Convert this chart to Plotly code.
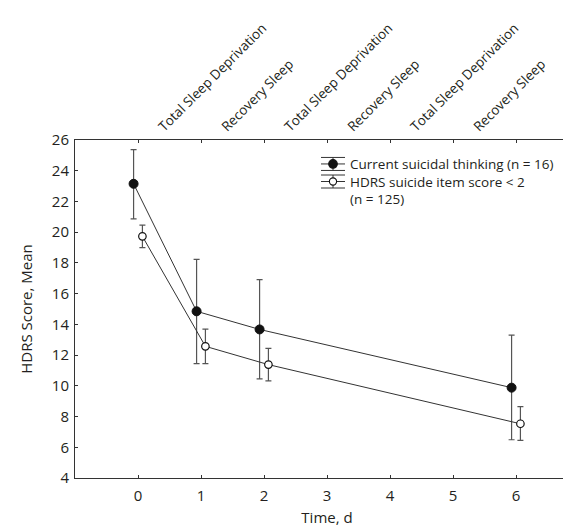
import plotly.graph_objects as go

days = [0, 1, 2, 6]
offset = 0.07

suicidal_mean = [23.15, 14.85, 13.67, 9.88]
suicidal_upper = [25.37, 18.23, 16.91, 13.30]
suicidal_lower = [20.87, 11.44, 10.45, 6.49]

nonsuicidal_mean = [19.73, 12.57, 11.38, 7.53]
nonsuicidal_upper = [20.46, 13.69, 12.44, 8.65]
nonsuicidal_lower = [18.99, 11.44, 10.32, 6.45]

legend_rows = ["Current suicidal thinking (n = 16)", "HDRS suicide item score < 2", "(n = 125)"]

top_labels = ["Total Sleep Deprivation", "Recovery Sleep", "Total Sleep Deprivation",
              "Recovery Sleep", "Total Sleep Deprivation", "Recovery Sleep"]
LABEL_SHIFT = 0.34
top_label_pos = [i + LABEL_SHIFT for i in range(len(top_labels))]

y_ticks = list(range(4, 27, 2))
x_ticks = [0, 1, 2, 3, 4, 5, 6]

FONT = "Open Sans"
TXT = "#231f20"
LINE = "#333333"
ERR = "#555555"

W, H = 571, 527
ML, MR, MT, MB = 67, 0, 132, 57
PW, PH = W - ML - MR, H - MT - MB

TICK_FS = 15
TITLE_FS = 15
SMALL_FS = 13.5


def px2paper(px, py):
    return (px - ML) / PW, (H - MB - py) / PH


fig = go.Figure()

fig.add_trace(go.Scatter(
    x=[d - offset for d in days], y=suicidal_mean,
    mode="lines+markers", showlegend=False,
    name=legend_rows[0],
    line=dict(color=LINE, width=1),
    marker=dict(symbol="circle", size=9, color="#111111", line=dict(color="#111111", width=1)),
    error_y=dict(type="data", symmetric=False,
                 array=[u - m for u, m in zip(suicidal_upper, suicidal_mean)],
                 arrayminus=[m - l for m, l in zip(suicidal_mean, suicidal_lower)],
                 color=ERR, thickness=1.2, width=3),
))

fig.add_trace(go.Scatter(
    x=[d + offset for d in days], y=nonsuicidal_mean,
    mode="lines+markers", showlegend=False,
    name=legend_rows[1] + " " + legend_rows[2],
    line=dict(color=LINE, width=1),
    marker=dict(symbol="circle", size=7.5, color="white", line=dict(color="#111111", width=1.2)),
    error_y=dict(type="data", symmetric=False,
                 array=[u - m for u, m in zip(nonsuicidal_upper, nonsuicidal_mean)],
                 arrayminus=[m - l for m, l in zip(nonsuicidal_mean, nonsuicidal_lower)],
                 color=ERR, thickness=1.2, width=3),
))

# invisible trace to host the top label axis
fig.add_trace(go.Scatter(x=top_label_pos, y=[None] * len(top_label_pos), xaxis="x2",
                         mode="markers", showlegend=False, hoverinfo="skip"))

# ---- custom legend (error-bar style glyphs) ----
shapes = []
annotations = []
glyph_cx = 325
text_x = 340
line_h = 1.3 * SMALL_FS
mid_y = 173.5
row_y = [mid_y - line_h, mid_y, mid_y + line_h]


def pshape(kind, cx, cy, x0, y0, x1, y1, **kw):
    ax, ay = px2paper(cx, cy)
    d = dict(type=kind, xref="paper", yref="paper", xsizemode="pixel", ysizemode="pixel",
             xanchor=ax, yanchor=ay, x0=x0, x1=x1, y0=y0, y1=y1)
    d.update(kw)
    return d


for cy, filled in [(row_y[0], True), (row_y[1], False)]:
    cap = 6.5
    for dy in (-cap, 0, cap):
        shapes.append(pshape("line", glyph_cx, cy, -12, dy, 12, dy, line=dict(color=LINE, width=1)))
    shapes.append(pshape("line", glyph_cx, cy, 0, -cap, 0, cap, line=dict(color=LINE, width=1)))
    r = 4.3 if filled else 3.6
    shapes.append(pshape("circle", glyph_cx, cy, -r, -r, r, r,
                         fillcolor="#111111" if filled else "white",
                         line=dict(color="#111111", width=1.1)))

ax, ay = px2paper(text_x, mid_y)
annotations.append(dict(text="<br>".join(legend_rows), x=ax, y=ay, xref="paper", yref="paper",
                        xanchor="left", yanchor="middle", align="left", showarrow=False,
                        font=dict(family=FONT, size=SMALL_FS, color=TXT)))

fig.update_layout(
    width=W, height=H,
    margin=dict(l=ML, r=MR, t=MT, b=MB),
    paper_bgcolor="white", plot_bgcolor="white",
    font=dict(family=FONT, size=TICK_FS, color=TXT),
    showlegend=False,
    shapes=shapes,
    annotations=annotations,
    xaxis=dict(range=[-1, 7], tickvals=x_ticks, ticks="inside", ticklen=3,
               tickcolor=LINE, showline=True, linecolor=LINE, linewidth=1,
               mirror="ticks", showgrid=False, zeroline=False, ticklabelstandoff=4,
               tickfont=dict(family=FONT, size=TICK_FS, color=TXT),
               title=dict(text="Time, d", font=dict(family=FONT, size=TITLE_FS, color=TXT), standoff=8)),
    xaxis2=dict(range=[-1, 7], overlaying="x", side="top", anchor="y",
                tickvals=top_label_pos, ticktext=top_labels, tickangle=-45,
                ticks="", showline=False, showgrid=False, zeroline=False, ticklabelstandoff=2,
                tickfont=dict(family=FONT, size=SMALL_FS, color=TXT)),
    yaxis=dict(range=[4, 26], tickvals=y_ticks, ticks="inside", ticklen=3,
               tickcolor=LINE, showline=True, linecolor=LINE, linewidth=1,
               showgrid=False, zeroline=False, ticklabelstandoff=2,
               tickfont=dict(family=FONT, size=TICK_FS, color=TXT),
               title=dict(text="HDRS Score, Mean", font=dict(family=FONT, size=TITLE_FS, color=TXT), standoff=15)),
)

fig.write_html("out.html")
